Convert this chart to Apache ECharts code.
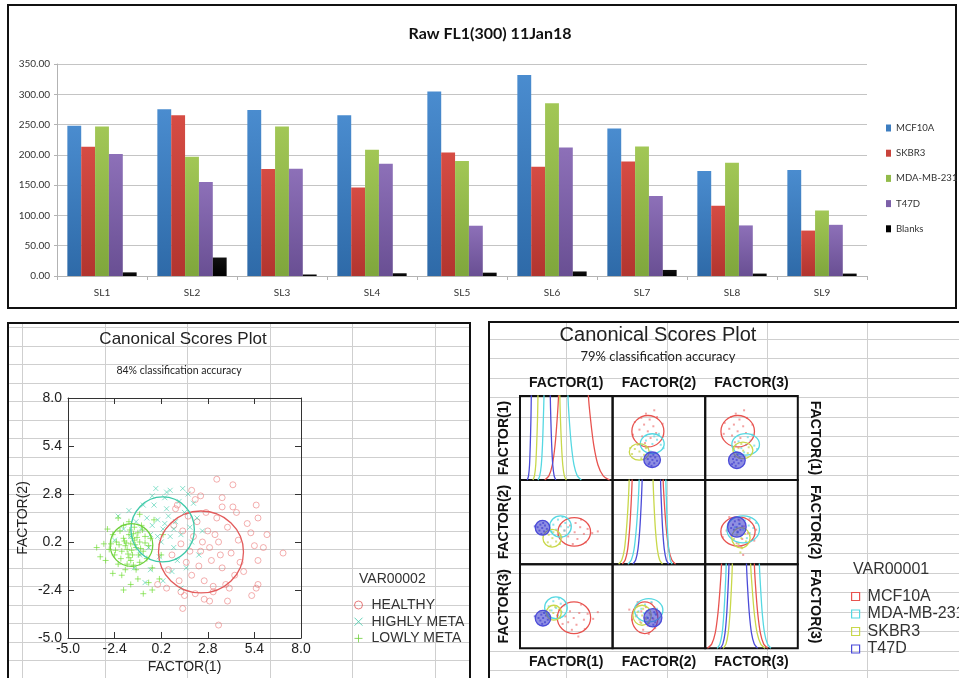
<!DOCTYPE html>
<html>
<head>
<meta charset="utf-8">
<title>Raw FL1(300) 11Jan18 and Canonical Scores Plots</title>
<script src="https://cdn.jsdelivr.net/npm/echarts@6.0.0/dist/echarts.min.js"></script>
<style>
html,body{margin:0;padding:0;background:#ffffff;}
#chart{width:959px;height:678px;}
</style>
</head>
<body>
<div id="chart"></div>
<script>
// ================= Top bar chart data =================
const barTitle = 'Raw FL1(300) 11Jan18';
const barCategories = ['SL1','SL2','SL3','SL4','SL5','SL6','SL7','SL8','SL9'];
const barSeriesNames = ['MCF10A','SKBR3','MDA-MB-231','T47D','Blanks'];
const mcf10aValues = [248, 275.5, 274, 265.5, 304.5, 332, 243.5, 173.5, 175];
const skbr3Values  = [213.5, 265.5, 176.5, 146, 204, 180.5, 189, 116, 75];
const mda231Values = [247, 197, 247, 208.5, 190, 285, 214, 187, 108];
const t47dValues   = [201.5, 155, 177, 185.5, 83, 212, 132, 83.5, 84.5];
const blanksValues = [6, 30.5, 2.5, 4.5, 5.5, 7.5, 10, 4, 4];
const barYMin = 0, barYMax = 350, barYStep = 50;

// ================= spreadsheet background (column / row indices) =================
const sheetColumnsLeft = [0, 1, 2, 3, 4, 5];
const sheetRowsLeft = [0, 1, 2, 3, 4, 5, 6, 7, 8, 9, 10, 11, 12, 13, 14, 15, 16, 17, 18, 19];
const sheetColumnsRight = [0, 1, 2, 3];
const sheetRowsRight = [-4, -3, -2, -1, 0, 1, 2, 3, 4, 5, 6, 7, 8, 9, 10, 11, 12, 13];

// ================= Left canonical scores plot data =================
const leftTitle = 'Canonical Scores Plot';
const leftSubtitle = '84% classification accuracy';
const leftLegendTitle = 'VAR00002';
const leftGroupNames = ['HEALTHY','HIGHLY META','LOWLY META'];
const leftTickValues = [-5.0, -2.4, 0.2, 2.8, 5.4, 8.0];
const healthyPoints = [
 [2.4,-0.3],[2.0,0.5],[3.0,-0.8],[1.6,-0.9],[2.8,0.8],[3.4,0.2],[1.9,-1.6],[2.6,-1.9],[3.6,-1.2],[1.3,0.1],
 [2.2,1.3],[3.9,1.0],[1.2,-1.9],[3.1,-2.5],[4.1,-0.4],[0.8,-0.5],[2.7,1.8],[3.3,1.5],[4.3,-1.6],[1.7,1.6],
 [0.9,1.1],[2.1,-2.6],[3.8,-2.1],[4.5,0.3],[0.6,-1.3],[1.5,-2.7],[2.9,-3.0],[4.6,-0.9],[3.6,2.1],[1.0,2.0],
 [3.3,3.6],[4.2,3.3],[5.5,2.2],[5.6,1.5],[5.2,0.7],[5.4,0.0],[5.9,-0.1],[7.0,-0.4],[5.6,-0.8],[5.6,-2.1],
 [5.5,-2.3],[5.25,-2.7],[3.9,-3.0],[3.4,-4.3],[1.4,-3.4],[4.2,2.1],[4.4,1.8],[3.6,2.6],[2.4,2.7],[1.9,3.0],
 [2.1,2.5],[1.1,2.2],[0.0,-2.1],[0.5,-2.3],[1.3,-2.5],[4.0,-2.3],[3.1,-2.2],[2.5,0.2],[2.9,-0.1],[1.8,-0.3],
 [3.5,-0.5],[2.3,-1.1],[3.2,0.6],[4.8,-1.4],[1.4,0.8],[2.6,-2.9],[5.0,1.2],[6.1,0.6]
];
const highlyMetaPoints = [
 [0.3,0.9],[0.0,1.4],[0.7,0.5],[-0.4,0.6],[1.0,1.3],[0.5,2.0],[-0.6,1.5],[0.2,0.2],[1.3,0.6],[-0.9,0.9],
 [0.6,1.6],[-0.2,2.2],[1.5,1.8],[-1.2,1.3],[0.9,-0.1],[-0.5,-0.1],[1.8,1.0],[0.4,2.6],[-0.8,2.2],[1.2,2.4],
 [-0.1,3.1],[0.7,3.0],[1.7,2.8],[-1.5,0.5],[1.9,0.2],[0.1,-0.6],[-1.0,-0.5],[1.1,-0.8],[2.2,1.5],[-1.6,1.9],
 [0.5,2.9],[-0.3,2.7],[1.4,3.1],[2.0,2.3],[-1.9,0.9],[-2.2,1.6],[0.8,-1.4],[-0.4,-1.3],[1.6,-1.2],[2.3,-0.5],
 [-1.3,-1.2],[0.3,-1.9],[1.3,-2.3],[-0.7,-2.0],[-2.4,0.3],[2.5,0.8],[0.0,0.5],[0.9,0.9],[-0.3,1.1],[0.4,1.2]
];
const lowlyMetaPoints = [
 [-1.5,0.1],[-1.3,0.3],[-1.7,-0.2],[-1.2,-0.1],[-1.9,0.4],[-1.6,0.6],[-1.0,0.2],[-1.4,-0.5],[-2.0,-0.3],[-1.8,0.0],
 [-1.1,0.7],[-2.3,0.2],[-1.5,-0.8],[-0.8,-0.3],[-1.3,1.0],[-2.1,0.8],[-1.7,-1.0],[-0.7,0.5],[-2.4,-0.5],[-1.0,-0.9],
 [-1.6,1.3],[-2.6,0.1],[-0.5,0.0],[-1.2,-1.3],[-2.2,-1.0],[-0.9,1.1],[-1.9,1.1],[-0.6,-0.7],[-2.7,-0.2],[-1.4,0.4],
 [-1.65,-0.45],[-1.25,0.05],[-1.85,0.25],[-1.05,-0.5],[-1.55,0.85],[-2.05,-0.7],[-0.85,0.85],[-1.35,-1.05],[-2.5,0.6],[-0.4,0.4],
 [-3.4,-0.1],[-3.0,0.1],[-2.9,-0.8],[-2.0,-1.6],[-1.1,-1.8],[-0.3,-1.2],[0.2,-0.5],[0.3,0.6],[-0.2,1.4],[-1.0,1.7],
 [-2.2,1.5],[-2.8,0.9],[-1.5,-2.1],[-0.5,-2.0],[-2.5,-1.5],[-0.8,-2.6],[-1.9,-2.4],[0.1,-1.8],[-3.2,-0.6],[-0.3,-2.4],
 [-1.75,0.15],[-1.45,-0.25],[-1.15,0.45],[-2.15,0.05],[-0.95,-0.15],[-1.6,-0.65],[-1.35,0.65],[-2.35,-0.25],[-0.7,0.15],[-1.8,-1.3]
];
// [centerX, centerY, radiusX, radiusY] in data units
const healthyEllipse = [2.42, -0.34, 2.37, 2.22];
const highlyMetaEllipse = [0.28, 0.88, 1.77, 1.76];
const lowlyMetaEllipse = [-1.46, 0.04, 1.19, 1.16];

// ================= Right scatter-matrix data =================
const rightTitle = 'Canonical Scores Plot';
const rightSubtitle = '79% classification accuracy';
const rightLegendTitle = 'VAR00001';
const factorNames = ['FACTOR(1)','FACTOR(2)','FACTOR(3)'];
const factorRanges = [[-4,6],[-5,5],[-5,5]];
const groupNames = ['MCF10A','MDA-MB-231','SKBR3','T47D'];
// ellipses per cell: [cx, cy, rx, ry] for MCF10A, MDA-MB-231, SKBR3, T47D
const ellipsesR1C2 = [[-1.19,1.81,1.73,1.87],[-0.72,0.33,1.29,1.18],[-2.12,-0.65,1.08,0.98],[-0.73,-1.58,0.9,0.92]];
const ellipsesR1C3 = [[-1.49,1.81,1.81,1.87],[-0.63,0.24,1.49,1.28],[-0.93,-0.46,1.08,0.98],[-1.58,-1.64,0.9,0.98]];
const ellipsesR2C1 = [[1.86,-1.16,1.76,1.7],[0.37,-0.51,1.17,1.26],[-0.53,-1.91,0.99,1.05],[-1.57,-0.66,0.78,0.88]];
const ellipsesR2C3 = [[-1.46,-1.11,1.85,1.73],[-0.9,-0.86,1.76,1.6],[-1.14,-1.85,0.99,1.2],[-1.58,-0.57,1.0,1.2]];
const ellipsesR3C1 = [[1.83,-1.37,1.8,1.88],[-0.12,-0.18,1.22,1.29],[-0.35,-0.77,0.81,0.89],[-1.52,-1.42,0.83,0.93]];
const ellipsesR3C2 = [[-1.52,-1.37,1.4,1.88],[-1.1,-0.48,1.53,1.39],[-1.82,-1.07,0.99,1.19],[-0.65,-1.37,0.97,1.09]];
// scatter points per cell, per group
const pointsR1C2 = [
 [[-1.2,1.8],[-0.6,2.4],[-1.8,1.2],[-0.9,1.0],[-1.6,2.6],[-0.3,1.6],[-2.1,2.0],[-1.0,3.2],[-1.4,3.9],[-0.2,3.5],[-2.6,2.9],[0.4,2.7],[-2.8,1.4],[-1.5,0.4],[-0.5,4.3],[-1.9,3.4]],
 [[-0.7,0.3],[-0.2,0.8],[-1.2,-0.1],[0.2,0.2],[-0.5,1.2],[-1.4,0.7],[0.5,-0.2],[-0.9,-0.6],[0.0,1.5],[-1.8,0.2]],
 [[-2.1,-0.6],[-2.6,-0.3],[-1.6,-1.0],[-2.9,-0.9],[-1.4,-0.2],[-2.3,0.2],[-1.9,-1.4],[-3.1,-0.2]],
 [[-0.7,-1.6],[-0.4,-1.3],[-1.0,-1.9],[-0.9,-1.2],[-0.5,-2.0],[-1.2,-1.5],[-0.2,-1.7],[-0.8,-2.3],[-0.6,-1.0],[-1.1,-2.1]]
];
const pointsR1C3 = [
 [[-1.5,1.8],[-0.9,2.4],[-2.1,1.3],[-1.2,1.0],[-1.9,2.6],[-0.6,1.6],[-2.4,2.1],[-1.3,3.2],[-1.7,3.9],[-0.5,3.4],[-2.9,2.8],[0.1,2.6],[-3.0,1.5],[-1.8,0.5],[-0.8,4.3],[-2.2,3.5]],
 [[-0.6,0.2],[-0.1,0.7],[-1.1,-0.2],[0.3,0.1],[-0.4,1.1],[-1.4,0.6],[0.6,-0.3],[-0.8,-0.7],[0.1,1.4],[-1.7,0.1]],
 [[-0.9,-0.5],[-1.4,-0.2],[-0.4,-0.8],[-1.6,-0.9],[-0.3,-0.1],[-1.1,0.3],[-0.7,-1.2],[-1.9,-0.3]],
 [[-1.6,-1.6],[-1.3,-1.3],[-1.9,-1.9],[-1.8,-1.2],[-1.4,-2.0],[-2.0,-1.5],[-1.1,-1.7],[-1.7,-2.3],[-1.5,-1.0],[-2.1,-2.1]]
];
const pointsR2C1 = [
 [[1.9,-1.2],[2.5,-0.6],[1.2,-1.7],[2.2,-2.0],[1.4,-0.4],[2.9,-1.4],[0.8,-1.0],[3.3,-0.8],[1.7,-2.6],[2.6,0.3],[3.8,-1.3],[4.4,-1.1],[0.5,-1.8],[1.1,0.4],[3.1,-2.4],[2.0,-0.1]],
 [[0.4,-0.5],[0.9,-0.1],[-0.1,-0.9],[0.8,-1.0],[0.1,0.3],[-0.4,-0.3],[1.2,-0.6],[0.3,-1.5],[-0.6,-1.1],[0.6,0.6]],
 [[-0.5,-1.9],[-0.9,-1.5],[-0.1,-2.3],[-1.0,-2.4],[0.1,-1.6],[-0.4,-1.2],[-0.7,-2.8],[0.3,-2.6]],
 [[-1.6,-0.7],[-1.3,-0.4],[-1.9,-1.0],[-1.8,-0.3],[-1.4,-1.1],[-2.1,-0.6],[-1.1,-0.8],[-1.7,-1.4],[-1.5,-0.1],[-2.4,-0.5]]
];
const pointsR2C3 = [
 [[-1.5,-1.1],[-0.8,-0.5],[-2.2,-1.6],[-1.0,-2.0],[-2.0,-0.3],[-0.4,-1.3],[-2.7,-1.0],[-1.3,0.2],[-1.6,-2.5],[-0.2,0.4],[-3.1,-1.8],[0.5,-0.9],[-2.4,0.6],[-1.1,-3.0],[-0.9,-3.9],[0.3,-2.2]],
 [[-0.9,-0.9],[-0.3,-0.4],[-1.5,-1.2],[-0.2,-1.3],[-1.3,-0.2],[0.2,-0.7],[-0.7,0.2],[-1.8,-0.6],[-0.5,-1.9],[0.5,-0.1]],
 [[-1.1,-1.9],[-1.6,-1.5],[-0.6,-2.3],[-1.4,-2.6],[-0.7,-1.4],[-1.9,-2.0],[-1.0,-3.1],[-1.2,-3.6]],
 [[-1.6,-0.6],[-1.3,-0.2],[-1.9,-0.9],[-1.2,-0.9],[-2.0,-0.3],[-1.5,-1.2],[-1.8,0.1],[-1.0,-0.5],[-2.2,-0.7],[-1.4,0.3]]
];
const pointsR3C1 = [
 [[1.8,-1.4],[2.4,-0.8],[1.2,-1.9],[2.1,-2.2],[1.4,-0.6],[2.9,-1.6],[0.9,-1.2],[3.3,-0.9],[1.6,-2.8],[2.6,0.2],[3.9,-1.5],[4.4,-0.7],[0.6,-2.1],[1.0,0.3],[3.0,-2.7],[2.3,-3.6]],
 [[-0.1,-0.2],[0.4,0.3],[-0.6,-0.5],[0.5,-0.7],[-0.4,0.6],[-0.9,0.0],[0.8,0.1],[0.1,-1.1],[-1.0,-0.9],[0.2,0.9]],
 [[-0.4,-0.8],[-0.8,-0.5],[0.0,-1.1],[-0.7,-1.3],[0.2,-0.4],[-0.2,-0.1],[-1.0,-1.0],[0.3,-1.4]],
 [[-1.5,-1.4],[-1.2,-1.1],[-1.8,-1.7],[-1.7,-1.0],[-1.3,-1.9],[-2.0,-1.4],[-1.0,-1.6],[-1.6,-2.1],[-1.4,-0.8],[-2.4,-1.2]]
];
const pointsR3C2 = [
 [[-1.5,-1.4],[-1.0,-0.8],[-2.0,-1.9],[-1.2,-2.3],[-1.9,-0.6],[-0.6,-1.5],[-2.4,-1.1],[-1.4,-0.1],[-1.7,-2.8],[-0.8,0.4],[-2.9,-1.6],[-0.2,-0.9],[-3.2,-0.4],[-1.1,-3.3],[-0.4,-2.6],[-2.3,0.5]],
 [[-1.1,-0.5],[-0.5,-0.1],[-1.6,-0.8],[-0.4,-0.9],[-1.5,0.2],[-0.8,0.5],[-1.9,-0.3],[-0.2,-0.3],[-1.3,-1.3],[-2.2,-0.6]],
 [[-1.8,-1.1],[-2.3,-0.7],[-1.4,-1.5],[-2.1,-1.6],[-1.3,-0.6],[-2.5,-1.2],[-1.7,-0.3],[-1.9,-2.0]],
 [[-0.7,-1.4],[-0.3,-1.0],[-1.0,-1.7],[-0.9,-1.0],[-0.4,-1.9],[-1.2,-1.4],[-0.1,-1.5],[-0.6,-2.2],[-0.5,-0.7],[-1.1,-2.0]]
];
// density curves on the diagonal (y > 1 is clipped by the cell top)
const densityF1 = [
 [[-1.33,0],[-0.88,0.05],[-0.51,0.18],[-0.21,0.42],[0.01,0.72],[0.16,1],[0.2,1.4],[3.35,1.4],[3.39,1],[3.62,0.72],[3.96,0.42],[4.42,0.18],[4.99,0.05],[5.68,0]],
 [[-2.06,0],[-1.87,0.05],[-1.70,0.18],[-1.57,0.42],[-1.48,0.72],[-1.41,1],[-1.38,1.4],[1.15,1.4],[1.18,1],[1.32,0.72],[1.54,0.42],[1.83,0.18],[2.19,0.05],[2.62,0]],
 [[-2.6,0],[-2.44,0.05],[-2.30,0.18],[-2.20,0.42],[-2.11,0.72],[-2.06,1],[-2.03,1.4],[0.27,1.4],[0.3,1],[0.37,0.72],[0.48,0.42],[0.62,0.18],[0.79,0.05],[1.0,0]],
 [[-3.21,0],[-3.08,0.05],[-2.97,0.18],[-2.89,0.42],[-2.82,0.72],[-2.78,1],[-2.75,1.4],[-0.76,1.4],[-0.73,1],[-0.67,0.72],[-0.58,0.42],[-0.46,0.18],[-0.31,0.05],[-0.13,0]]
];
const densityF2 = [
 [[-3.96,0],[-3.64,0.05],[-3.37,0.18],[-3.16,0.42],[-3.0,0.72],[-2.89,1],[-2.86,1.4],[0.43,1.4],[0.46,1],[0.59,0.72],[0.8,0.42],[1.06,0.18],[1.4,0.05],[1.8,0]],
 [[-3.35,0],[-2.98,0.05],[-2.68,0.18],[-2.44,0.42],[-2.25,0.72],[-2.13,1],[-2.1,1.4],[0.72,1.4],[0.75,1],[0.82,0.72],[0.92,0.42],[1.06,0.18],[1.23,0.05],[1.43,0]],
 [[-4.35,0],[-4.01,0.05],[-3.72,0.18],[-3.5,0.42],[-3.32,0.72],[-3.21,1],[-3.18,1.4],[-0.66,1.4],[-0.63,1],[-0.53,0.72],[-0.38,0.42],[-0.17,0.18],[0.08,0.05],[0.39,0]],
 [[-2.81,0],[-2.51,0.05],[-2.26,0.18],[-2.06,0.42],[-1.91,0.72],[-1.81,1],[-1.78,1.4],[0.15,1.4],[0.18,1],[0.27,0.72],[0.4,0.42],[0.58,0.18],[0.8,0.05],[1.07,0]]
];
const densityF3 = [
 [[-4.76,0],[-4.3,0.05],[-3.92,0.18],[-3.62,0.42],[-3.39,0.72],[-3.24,1],[-3.21,1.4],[0.28,1.4],[0.31,1],[0.45,0.72],[0.67,0.42],[0.96,0.18],[1.32,0.05],[1.75,0]],
 [[-3.71,0],[-3.42,0.05],[-3.17,0.18],[-2.98,0.42],[-2.83,0.72],[-2.73,1],[-2.7,1.4],[0.82,1.4],[0.85,1],[0.98,0.72],[1.16,0.42],[1.41,0.18],[1.73,0.05],[2.1,0]],
 [[-3.06,0],[-2.76,0.05],[-2.52,0.18],[-2.32,0.42],[-2.17,0.72],[-2.07,1],[-2.04,1.4],[-0.12,1.4],[-0.09,1],[0.07,0.72],[0.3,0.42],[0.61,0.18],[1.0,0.05],[1.47,0]],
 [[-3.38,0],[-3.1,0.05],[-2.86,0.18],[-2.67,0.42],[-2.53,0.72],[-2.43,1],[-2.4,1.4],[-0.57,1.4],[-0.54,1],[-0.42,0.72],[-0.24,0.42],[0.0,0.18],[0.3,0.05],[0.66,0]]
];

// ================= Build the chart =================
const chart = echarts.init(document.getElementById('chart'), null, {renderer: 'canvas', width: 959, height: 678});

const option = {
  animation: false,
  backgroundColor: '#ffffff',
  title: [], legend: [], grid: [], xAxis: [], yAxis: [], series: []
};
function addGrid(g) { option.grid.push(Object.assign({outerBoundsMode: 'none', containLabel: false}, g)); return option.grid.length - 1; }
function addX(a) { option.xAxis.push(a); return option.xAxis.length - 1; }
function addY(a) { option.yAxis.push(a); return option.yAxis.length - 1; }
function hiddenAxis(gi, min, max, extra) { return Object.assign({type: 'value', gridIndex: gi, show: false, min: min, max: max}, extra || {}); }
const noLines = {axisLine: {show: false}, axisTick: {show: false}, axisLabel: {show: false}, splitLine: {show: false}};
const SANS = 'Liberation Sans, Arial, sans-serif';
const LATO = 'Lato, Noto Sans, sans-serif';
const SHEET_COLOR = '#cfcfcf';

function sheetColumnRenderer(params, api) {
  const cs = params.coordSys;
  const x = Math.round(api.coord([api.value(0), api.value(1)])[0]) + 0.5;
  return {type: 'line', shape: {x1: x, y1: cs.y, x2: x, y2: cs.y + cs.height}, style: {stroke: SHEET_COLOR, lineWidth: 1}};
}
function sheetRowRenderer(params, api) {
  const cs = params.coordSys;
  const y = Math.round(api.coord([api.value(0), api.value(1)])[1]) + 0.5;
  return {type: 'line', shape: {x1: cs.x, y1: y, x2: cs.x + cs.width, y2: y}, style: {stroke: SHEET_COLOR, lineWidth: 1}};
}
function addSheet(gridSpec, colRange, rowRange, cols, rows) {
  const g = addGrid(Object.assign({show: true, borderColor: '#111', borderWidth: 2, backgroundColor: 'transparent'}, gridSpec));
  const xi = addX(hiddenAxis(g, colRange[0], colRange[1]));
  const yi = addY(hiddenAxis(g, rowRange[0], rowRange[1], {inverse: true}));
  option.series.push({type: 'custom', name: 'sheet columns', coordinateSystem: 'cartesian2d', xAxisIndex: xi, yAxisIndex: yi,
    data: cols.map(c => [c, rowRange[0]]), renderItem: sheetColumnRenderer, silent: true, z: -1});
  option.series.push({type: 'custom', name: 'sheet rows', coordinateSystem: 'cartesian2d', xAxisIndex: xi, yAxisIndex: yi,
    data: rows.map(r => [colRange[0], r]), renderItem: sheetRowRenderer, silent: true, z: -1});
}
// bottom-left panel: columns every 82.5 px starting at x=22, rows every 18.5 px starting at y=327.5
addSheet({left: 8, top: 323, width: 462, height: 356}, [-0.1697, 5.4303], [-0.2432, 19.0], sheetColumnsLeft, sheetRowsLeft);
// bottom-right panel: columns every 101 px starting at x=566.7, rows every 19.5 px through y=416.7
addSheet({left: 489, top: 322, width: 475, height: 360}, [-0.7693, 3.9634], [-4.8564, 13.6051], sheetColumnsRight, sheetRowsRight);

// ---------- top panel ----------
const gTopBorder = addGrid({left: 8, top: 5, width: 948, height: 303, show: true, borderColor: '#111', borderWidth: 2, backgroundColor: 'transparent'});
addX(hiddenAxis(gTopBorder, 0, 1)); addY(hiddenAxis(gTopBorder, 0, 1));

const gTop = addGrid({left: 57, top: 64, width: 810, height: 212});
const xTop = addX({type: 'category', gridIndex: gTop, data: barCategories,
  axisLine: {show: true, lineStyle: {color: '#b3b3b3', width: 1}},
  axisTick: {show: true, length: 4, alignWithLabel: false, lineStyle: {color: '#b3b3b3'}},
  axisLabel: {fontFamily: LATO, fontSize: 10, color: '#333', margin: 12},
  splitLine: {show: false}});
const yTop = addY({type: 'value', gridIndex: gTop, min: barYMin, max: barYMax, interval: barYStep,
  axisLine: {show: true, lineStyle: {color: '#b3b3b3', width: 1}},
  axisTick: {show: true, length: 3, lineStyle: {color: '#b3b3b3'}},
  axisLabel: {fontFamily: LATO, fontSize: 10, color: '#333', margin: 7, formatter: v => v.toFixed(2)},
  splitLine: {show: true, lineStyle: {color: '#c4c4c4', width: 1}}});

const barValues = [mcf10aValues, skbr3Values, mda231Values, t47dValues, blanksValues];
const barTopColors = ['#4a8ccf', '#d64c44', '#a2c756', '#8d70b8', '#111111'];
const barBottomColors = ['#2e6aa8', '#b2352f', '#7fa63c', '#694f93', '#000000'];
const barSolidColors = ['#3d7dc0', '#c9423b', '#92bb4a', '#7c60a8', '#000000'];
barSeriesNames.forEach((name, i) => {
  option.series.push({
    type: 'bar', name: name, xAxisIndex: xTop, yAxisIndex: yTop, data: barValues[i],
    barCategoryGap: '23%', barGap: '0%', silent: true,
    itemStyle: {color: new echarts.graphic.LinearGradient(0, 0, 0, 1, [
      {offset: 0, color: barTopColors[i]}, {offset: 1, color: barBottomColors[i]}])}
  });
});
option.title.push({text: barTitle, left: 490, top: 26, textAlign: 'center', textVerticalAlign: 'top', padding: 0,
  textStyle: {fontFamily: LATO, fontWeight: 'bold', fontSize: 16, color: '#111'}});
option.legend.push({orient: 'vertical', left: 886, top: 122, padding: 0, itemWidth: 5, itemHeight: 7, itemGap: 13.2,
  selectedMode: false, textStyle: {fontFamily: LATO, fontSize: 9.6, color: '#333', lineHeight: 12},
  data: barSeriesNames.map((n, i) => ({name: n, icon: 'rect', itemStyle: {color: barSolidColors[i], borderWidth: 0}}))});

// ---------- bottom-left canonical plot ----------
function ellipseRenderer(stroke, fill, width) {
  return function (params, api) {
    const c = api.coord([api.value(0), api.value(1)]);
    const s = api.size([api.value(2), api.value(3)]);
    return {type: 'ellipse', shape: {cx: c[0], cy: c[1], rx: s[0], ry: s[1]},
      style: {fill: fill, stroke: stroke, lineWidth: width}};
  };
}
const gL = addGrid({left: 68, top: 398, width: 233, height: 240});
const boxLine = {show: true, onZero: false, lineStyle: {color: '#333', width: 1}};
const boxTick = {show: true, inside: true, length: 6, customValues: leftTickValues, lineStyle: {color: '#333', width: 1}};
const axisFont = {fontFamily: SANS, fontSize: 14, color: '#222'};
const xL = addX({type: 'value', gridIndex: gL, position: 'bottom', min: -5, max: 8,
  axisLine: boxLine, axisTick: boxTick, splitLine: {show: false},
  axisLabel: Object.assign({customValues: leftTickValues, formatter: v => v.toFixed(1), margin: 4}, axisFont),
  name: 'FACTOR(1)', nameLocation: 'middle', nameGap: 22, nameMoveOverlap: false, nameTextStyle: axisFont});
addX({type: 'value', gridIndex: gL, position: 'top', min: -5, max: 8,
  axisLine: boxLine, axisTick: boxTick, axisLabel: {show: false}, splitLine: {show: false}});
const yL = addY({type: 'value', gridIndex: gL, position: 'left', min: -5, max: 8,
  axisLine: boxLine, axisTick: boxTick, splitLine: {show: false},
  axisLabel: Object.assign({customValues: leftTickValues, formatter: v => v.toFixed(1), margin: 6}, axisFont),
  name: 'FACTOR(2)', nameLocation: 'middle', nameGap: 38, nameRotate: 90, nameMoveOverlap: false, nameTextStyle: axisFont});
addY({type: 'value', gridIndex: gL, position: 'right', min: -5, max: 8,
  axisLine: boxLine, axisTick: boxTick, axisLabel: {show: false}, splitLine: {show: false}});

const leftPointSets = [healthyPoints, highlyMetaPoints, lowlyMetaPoints];
const leftEllipses = [healthyEllipse, highlyMetaEllipse, lowlyMetaEllipse];
const leftSymbols = ['circle', 'path://M0,0L10,10M10,0L0,10', 'path://M5,0L5,10M0,5L10,5'];
const leftSymbolSizes = [6, 5, 6];
const leftPointColors = ['rgba(234,112,112,0.7)', 'rgba(60,205,170,0.75)', 'rgba(110,220,50,0.85)'];
const leftLineColors = ['#e25b5b', '#3ec9a9', '#6fd03c'];
leftGroupNames.forEach((name, i) => {
  option.series.push({type: 'scatter', name: name, xAxisIndex: xL, yAxisIndex: yL, data: leftPointSets[i],
    symbol: leftSymbols[i], symbolSize: leftSymbolSizes[i], silent: true,
    itemStyle: {color: 'rgba(0,0,0,0)', borderColor: leftPointColors[i], borderWidth: 1}});
});
leftGroupNames.forEach((name, i) => {
  option.series.push({type: 'custom', name: name, coordinateSystem: 'cartesian2d', xAxisIndex: xL, yAxisIndex: yL,
    dimensions: ['cx', 'cy', 'rx', 'ry'], encode: {x: 0, y: 1}, data: [leftEllipses[i]], silent: true, z: 3,
    renderItem: ellipseRenderer(leftLineColors[i], 'none', 1.3)});
});
option.title.push({text: leftTitle, left: 183, top: 331, textAlign: 'center', textVerticalAlign: 'top', padding: 0,
  textStyle: {fontFamily: SANS, fontWeight: 'normal', fontSize: 17, color: '#222'}});
option.title.push({text: leftSubtitle, left: 179, top: 365, textAlign: 'center', textVerticalAlign: 'top', padding: 0,
  textStyle: {fontFamily: LATO, fontWeight: 'normal', fontSize: 10.5, color: '#222'}});
option.title.push({text: leftLegendTitle, left: 359, top: 572, textVerticalAlign: 'top', padding: 0,
  textStyle: {fontFamily: SANS, fontWeight: 'normal', fontSize: 14, color: '#333'}});
option.legend.push({orient: 'vertical', left: 354, top: 597, padding: 0, itemWidth: 8, itemHeight: 8, itemGap: 0.7,
  selectedMode: false, textStyle: {fontFamily: SANS, fontSize: 14, color: '#333', lineHeight: 16, padding: [0, 0, 0, 4]},
  data: leftGroupNames.map((n, i) => ({name: n, icon: leftSymbols[i],
    itemStyle: {color: 'rgba(0,0,0,0)', borderColor: leftLineColors[i], borderWidth: 1}}))});

// ---------- bottom-right scatter matrix ----------
const groupLineColors = ['#e8534f', '#55d8e2', '#c9d84a', '#4b4bd8'];
const groupPointColors = ['rgba(236,110,110,0.8)', 'rgba(90,215,225,0.85)', 'rgba(200,212,80,0.9)', 'rgba(75,75,215,0.9)'];
const groupFills = ['none', 'none', 'none', 'rgba(62,62,205,0.58)'];
const cellEllipses = [[null, ellipsesR1C2, ellipsesR1C3], [ellipsesR2C1, null, ellipsesR2C3], [ellipsesR3C1, ellipsesR3C2, null]];
const cellPoints = [[null, pointsR1C2, pointsR1C3], [pointsR2C1, null, pointsR2C3], [pointsR3C1, pointsR3C2, null]];
const diagDensities = [densityF1, densityF2, densityF3];
const cellLeft = 520, cellTop = 396, cellW = 92.6, cellH = 84.1;
const nameFont = {fontFamily: SANS, fontSize: 14, fontWeight: 'bold', color: '#111'};

for (let r = 0; r < 3; r++) {
  for (let c = 0; c < 3; c++) {
    const g = addGrid({left: cellLeft + c * cellW, top: cellTop + r * cellH, width: cellW, height: cellH,
      show: true, borderColor: '#111', borderWidth: 2, backgroundColor: 'transparent'});
    const xr = factorRanges[c];
    const yr = r === c ? [0, 1] : factorRanges[r];
    const xi = addX(Object.assign({type: 'value', gridIndex: g, min: xr[0], max: xr[1], position: 'bottom',
      name: r === 2 ? factorNames[c] : '', nameLocation: 'middle', nameGap: 7, nameMoveOverlap: false, nameTextStyle: nameFont}, noLines));
    if (r === 0) {
      addX(Object.assign({type: 'value', gridIndex: g, min: xr[0], max: xr[1], position: 'top',
        name: factorNames[c], nameLocation: 'middle', nameGap: 6, nameMoveOverlap: false, nameTextStyle: nameFont}, noLines));
    }
    const yi = addY(Object.assign({type: 'value', gridIndex: g, min: yr[0], max: yr[1], position: 'left',
      name: c === 0 ? factorNames[r] : '', nameLocation: 'middle', nameGap: 9, nameRotate: 90, nameMoveOverlap: false, nameTextStyle: nameFont}, noLines));
    if (c === 2) {
      addY(Object.assign({type: 'value', gridIndex: g, min: yr[0], max: yr[1], position: 'right',
        name: factorNames[r], nameLocation: 'middle', nameGap: 10, nameRotate: -90, nameMoveOverlap: false, nameTextStyle: nameFont}, noLines));
    }
    if (r === c) {
      diagDensities[r].forEach((curve, k) => {
        option.series.push({type: 'line', name: groupNames[k], xAxisIndex: xi, yAxisIndex: yi, data: curve,
          smooth: 0.25, symbol: 'none', clip: true, silent: true,
          lineStyle: {color: groupLineColors[k], width: 1.3}, itemStyle: {color: groupLineColors[k]}});
      });
    } else {
      cellPoints[r][c].forEach((pts, k) => {
        option.series.push({type: 'scatter', name: groupNames[k], xAxisIndex: xi, yAxisIndex: yi, data: pts,
          symbol: 'rect', symbolSize: 2, silent: true, itemStyle: {color: groupPointColors[k]}});
      });
      cellEllipses[r][c].forEach((e, k) => {
        option.series.push({type: 'custom', name: groupNames[k], coordinateSystem: 'cartesian2d', xAxisIndex: xi, yAxisIndex: yi,
          dimensions: ['cx', 'cy', 'rx', 'ry'], encode: {x: 0, y: 1}, data: [e], silent: true, z: 3,
          renderItem: ellipseRenderer(groupLineColors[k], groupFills[k], 1.3)});
      });
    }
  }
}
option.title.push({text: rightTitle, left: 658, top: 325, textAlign: 'center', textVerticalAlign: 'top', padding: 0,
  textStyle: {fontFamily: SANS, fontWeight: 'normal', fontSize: 20, color: '#222'}});
option.title.push({text: rightSubtitle, left: 658, top: 350, textAlign: 'center', textVerticalAlign: 'top', padding: 0,
  textStyle: {fontFamily: LATO, fontWeight: 'normal', fontSize: 13, color: '#222'}});
option.title.push({text: rightLegendTitle, left: 853, top: 562, textVerticalAlign: 'top', padding: 0,
  textStyle: {fontFamily: SANS, fontWeight: 'normal', fontSize: 16, color: '#333'}});
option.legend.push({orient: 'vertical', left: 851, top: 588, padding: 0, itemWidth: 8, itemHeight: 8, itemGap: 0.5,
  selectedMode: false, textStyle: {fontFamily: SANS, fontSize: 16, color: '#333', lineHeight: 17, padding: [0, 0, 0, 3]},
  data: groupNames.map((n, i) => ({name: n, icon: 'rect',
    itemStyle: {color: 'rgba(0,0,0,0)', borderColor: groupLineColors[i], borderWidth: 1.2}}))});

chart.setOption(option);
</script>
</body>
</html>
